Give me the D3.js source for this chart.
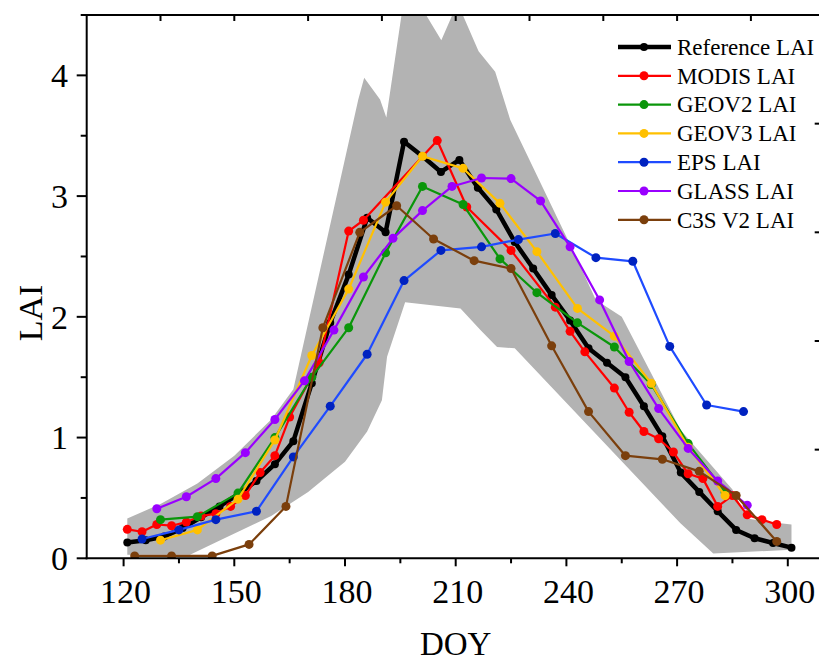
<!DOCTYPE html>
<html>
<head>
<meta charset="utf-8">
<script src="https://cdn.jsdelivr.net/npm/d3@7"></script>
<style>
    body { margin: 0; background: #fff; }
    svg text { font-family: "Liberation Serif", "Times New Roman", serif; fill: #000; }
</style>
</head>
<body>
<div id="chart"></div>
<script>
// Reference LAI (every 5 days)
let refDoy = [121,126,131,136,141,146,151,156,161,166,171,176,181,186,191,196,201,206,211,216,221,226,231,236,241,246,251,256,261,266,271,276,281,286,291,296,301]
let refLai = [0.13,0.15,0.18,0.25,0.34,0.43,0.53,0.64,0.78,0.97,1.45,1.95,2.35,2.82,2.70,3.45,3.33,3.20,3.30,3.07,2.89,2.62,2.40,2.18,1.97,1.74,1.62,1.50,1.26,1.01,0.71,0.55,0.39,0.235,0.166,0.127,0.088]

// MODIS LAI
let modisDoy = [121,125,129,133,137,141,145,149,153,157,161,165,173,181,185,205,213,225,237,241,245,253,257,261,265,269,273,277,281,285,289,293,297]
let modisLai = [0.24,0.22,0.28,0.27,0.30,0.35,0.37,0.43,0.52,0.71,0.85,1.17,1.62,2.71,2.80,3.46,2.91,2.55,2.08,1.88,1.71,1.41,1.21,1.05,0.99,0.88,0.70,0.66,0.43,0.52,0.36,0.32,0.28]

// GEOV2 / GEOV3 LAI (dekads)
let geoDoy = [130,140,151,161,171,181,191,201,212,222,232,243,253,263,273,283]
let geov2Lai = [0.32,0.345,0.54,1.00,1.50,1.91,2.53,3.08,2.93,2.48,2.20,1.95,1.75,1.44,0.95,0.55]
let geov3Lai = [0.15,0.235,0.49,0.98,1.68,2.23,2.95,3.33,3.23,2.94,2.54,2.07,1.84,1.45,0.92,0.52]

// EPS LAI
let epsDoy = [125,135,145,156,166,176,186,196,206,217,227,237,248,258,268,278,288]
let epsLai = [0.16,0.235,0.32,0.39,0.84,1.26,1.69,2.30,2.55,2.58,2.64,2.69,2.49,2.46,1.755,1.27,1.215]

// GLASS LAI (8 days)
let glassDoy = [129,137,145,153,161,169,177,185,193,201,209,217,225,233,241,249,257,265,273,281,289]
let glassLai = [0.41,0.51,0.66,0.875,1.15,1.47,1.89,2.33,2.65,2.88,3.08,3.15,3.145,2.96,2.58,2.14,1.63,1.24,0.91,0.64,0.44]

// C3S V2 LAI
let c3sDoy = [123,133,144,154,164,174,184,194,204,215,225,236,246,256,266,276,286,297]
let c3sLai = [0.02,0.02,0.02,0.115,0.43,1.91,2.70,2.92,2.645,2.465,2.40,1.76,1.215,0.85,0.82,0.72,0.52,0.14]

// Grey envelope (upper and lower edge)
let upperDoy = [121,130,140,150,160,166,183.6,185.2,189.5,191.2,195.8,200,206.1,210.5,216.2,220.7,224.8,241,248,255,271,285,289,295,301]
let upperLai = [0.33,0.45,0.62,0.85,1.15,1.40,3.80,3.98,3.80,3.65,4.6,4.6,4.29,4.6,4.2,4.03,3.63,2.6,2.14,2.0,1.06,0.57,0.33,0.30,0.28]
let lowerDoy = [121,138,146.2,160,170,180,186,190,191.4,196.3,211.3,216.7,221.2,226,270.9,279.8,301]
let lowerLai = [0.03,0.03,0.15,0.35,0.55,0.80,1.05,1.31,1.67,2.12,2.07,1.89,1.75,1.74,0.29,0.04,0.07]

let xTicks = [120,150,180,210,240,270,300]
let yTicks = [0,1,2,3,4]

let series = [
    {name: "Reference LAI", doy: refDoy, lai: refLai, line: "#000000", dot: "#000000", width: 4.5, r: 4},
    {name: "MODIS LAI", doy: modisDoy, lai: modisLai, line: "#ff0000", dot: "#ff0000", width: 2.2, r: 4.5},
    {name: "GEOV2 LAI", doy: geoDoy, lai: geov2Lai, line: "#0a960a", dot: "#0a960a", width: 2.2, r: 4.5},
    {name: "GEOV3 LAI", doy: geoDoy, lai: geov3Lai, line: "#ffc000", dot: "#ffc000", width: 2.2, r: 4.5},
    {name: "EPS LAI", doy: epsDoy, lai: epsLai, line: "#1f4bff", dot: "#0022c0", width: 2.2, r: 4.5},
    {name: "GLASS LAI", doy: glassDoy, lai: glassLai, line: "#9900ff", dot: "#9900ff", width: 2.2, r: 4.5},
    {name: "C3S V2 LAI", doy: c3sDoy, lai: c3sLai, line: "#7b3f0c", dot: "#7b3f0c", width: 2.2, r: 4.5}
]

let width = 819
let height = 664
let pLeft = 86.7, pRight = 824.7, pTop = 15, pBottom = 558.3

const svg = d3.select("#chart")
            .append("svg")
            .attr("width", width)
            .attr("height", height)

let x = d3.scaleLinear().domain([110, 310]).range([pLeft, pRight])
let y = d3.scaleLinear().domain([0, 4.5]).range([pBottom, pTop])
let yRight = d3.scaleLinear().domain([0, 5]).range([pBottom, pTop])

svg.append("clipPath")
   .attr("id", "plotClip")
   .append("rect")
   .attr("x", pLeft).attr("y", pTop)
   .attr("width", pRight - pLeft).attr("height", pBottom - pTop)

let plot = svg.append("g").attr("clip-path", "url(#plotClip)")

// Grey band: upper edge forward, lower edge back
let bandPts = upperDoy.map((d, i) => [d, upperLai[i]])
                .concat(lowerDoy.map((d, i) => [d, lowerLai[i]]).reverse())
plot.append("path")
    .attr("d", d3.line().x(d => x(d[0])).y(d => y(d[1]))(bandPts) + "Z")
    .attr("fill", "#b3b3b3")

// Lines and markers
let line = d3.line().x(d => x(d[0])).y(d => y(d[1]))
series.forEach(s => {
    let pts = s.doy.map((d, i) => [d, s.lai[i]])
    let g = plot.append("g")
    g.append("path")
     .attr("d", line(pts))
     .attr("fill", "none")
     .attr("stroke", s.line)
     .attr("stroke-width", s.width)
     .attr("stroke-linejoin", "round")
    g.selectAll("circle")
     .data(pts)
     .enter()
     .append("circle")
     .attr("cx", d => x(d[0]))
     .attr("cy", d => y(d[1]))
     .attr("r", s.r)
     .attr("fill", s.dot)
})

// Frame
let frame = svg.append("g").attr("stroke", "#000").attr("stroke-width", 2)
frame.append("line").attr("x1", pLeft).attr("x2", pLeft).attr("y1", pTop - 1).attr("y2", pBottom + 1)
frame.append("line").attr("x1", pLeft - 1).attr("x2", pRight).attr("y1", pBottom).attr("y2", pBottom)
frame.append("line").attr("x1", pLeft - 1).attr("x2", pRight).attr("y1", pTop).attr("y2", pTop)
frame.append("line").attr("x1", pRight).attr("x2", pRight).attr("y1", pTop).attr("y2", pBottom)

// Bottom ticks (major + minor)
frame.selectAll(".xmajor").data(xTicks).enter().append("line")
     .attr("x1", d => x(d)).attr("x2", d => x(d)).attr("y1", pBottom).attr("y2", pBottom + 8)
frame.selectAll(".xminor").data(xTicks.slice(0, -1).map(d => d + 15)).enter().append("line")
     .attr("x1", d => x(d)).attr("x2", d => x(d)).attr("y1", pBottom).attr("y2", pBottom + 5)
// Top ticks (inward)
frame.selectAll(".xtop").data(d3.range(130, 291, 20)).enter().append("line")
     .attr("x1", d => x(d)).attr("x2", d => x(d)).attr("y1", pTop).attr("y2", pTop + 6)
// Left ticks
frame.selectAll(".ymajor").data(yTicks).enter().append("line")
     .attr("x1", pLeft - 10).attr("x2", pLeft).attr("y1", d => y(d)).attr("y2", d => y(d))
frame.selectAll(".yminor").data(yTicks.map(d => d + 0.5)).enter().append("line")
     .attr("x1", pLeft - 6).attr("x2", pLeft).attr("y1", d => y(d)).attr("y2", d => y(d))
// Right ticks (inward)
frame.selectAll(".yright").data([1, 2, 3, 4]).enter().append("line")
     .attr("x1", pRight - 10).attr("x2", pRight).attr("y1", d => yRight(d)).attr("y2", d => yRight(d))

// Tick labels
svg.selectAll(".xlab").data(xTicks).enter().append("text")
   .attr("x", d => x(d) + 2).attr("y", 603)
   .attr("text-anchor", "middle").attr("font-size", 34)
   .text(d => d)
svg.selectAll(".ylab").data(yTicks).enter().append("text")
   .attr("x", 68).attr("y", d => y(d)).attr("dy", "0.35em")
   .attr("text-anchor", "end").attr("font-size", 34)
   .text(d => d)

// Axis titles
svg.append("text")
   .attr("x", (pLeft + pRight) / 2).attr("y", 655)
   .attr("text-anchor", "middle").attr("font-size", 33)
   .text("DOY")
svg.append("text")
   .attr("transform", "translate(42,313) rotate(-90)")
   .attr("text-anchor", "middle").attr("font-size", 34)
   .text("LAI")

// Legend
let legend = svg.append("g").attr("transform", "translate(618,47)")
series.forEach((s, i) => {
    let row = legend.append("g").attr("transform", `translate(0,${i * 28.8})`)
    row.append("line").attr("x1", 0).attr("x2", 53).attr("y1", 0).attr("y2", 0)
       .attr("stroke", s.line).attr("stroke-width", s.width)
    row.append("circle").attr("cx", 26).attr("cy", 0).attr("r", s.r).attr("fill", s.dot)
    row.append("text").attr("x", 59).attr("y", 0).attr("dy", "0.34em")
       .attr("font-size", 23).text(s.name)
})
</script>
</body>
</html>
